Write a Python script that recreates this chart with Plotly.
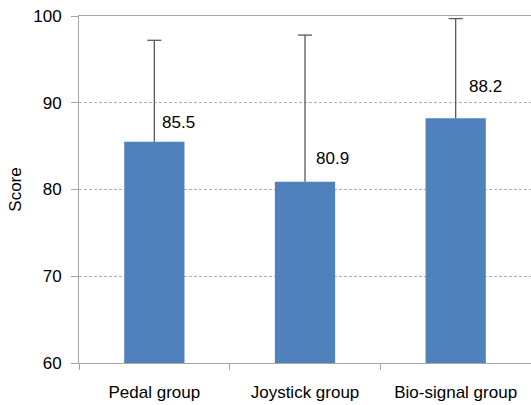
import plotly.graph_objects as go

categories = ["Pedal group", "Joystick group", "Bio-signal group"]
means = [85.5, 80.9, 88.2]
upper_err = [11.7, 16.9, 11.5]
label_text = ["85.5", "80.9", "88.2"]
y_ticks = [60, 70, 80, 90, 100]

FONT = "Liberation Sans, Arial, sans-serif"
FS = 17

fig = go.Figure()
fig.add_trace(go.Bar(
    x=categories, y=means, width=0.4,
    marker=dict(color="#4F81BD", line=dict(width=0)),
    error_y=dict(type="data", symmetric=False, array=upper_err,
                 arrayminus=[0, 0, 0], color="#595959", thickness=1.3, width=0),
))
# error-bar caps (top only)
fig.add_trace(go.Scatter(
    x=categories, y=[m + e for m, e in zip(means, upper_err)], mode="markers",
    marker=dict(symbol="line-ew", size=10, line=dict(width=1.3, color="#595959")),
    hoverinfo="skip",
))

label_shift_y = [19, 23, 32]
label_shift_x = [6, 9, 11]
for c, v, t, sy, sx in zip(categories, means, label_text, label_shift_y, label_shift_x):
    fig.add_annotation(x=c, y=v, text=t, showarrow=False, xanchor="left",
                       yanchor="middle", xshift=sx, yshift=sy,
                       font=dict(family=FONT, size=FS, color="#000000"))

fig.update_layout(
    width=531, height=405,
    margin=dict(l=79, r=0, t=16, b=42),
    plot_bgcolor="white", paper_bgcolor="white",
    showlegend=False,
    font=dict(family=FONT, size=FS, color="#000000"),
)
fig.update_xaxes(
    showline=True, linecolor="#A6A6A6", linewidth=1, mirror=True,
    ticks="outside", tickson="boundaries", ticklen=6, tickcolor="#A6A6A6",
    showgrid=False, tickfont=dict(size=FS, family=FONT), automargin=False,
    ticklabelstandoff=14,
)
fig.update_yaxes(
    range=[60, 100], tickvals=y_ticks, showline=True, linecolor="#A6A6A6",
    linewidth=1, ticks="outside", ticklen=7, tickcolor="#A6A6A6",
    showgrid=True, gridcolor="#B0B0B0", griddash="3px,2px", gridwidth=1,
    title=dict(text="Score", font=dict(size=FS, family=FONT), standoff=7),
    tickfont=dict(size=FS, family=FONT), zeroline=False, automargin=False,
    ticklabelstandoff=6,
)

fig.write_html("out.html", config={"displayModeBar": False},
               post_script="document.body.style.margin='0';")
